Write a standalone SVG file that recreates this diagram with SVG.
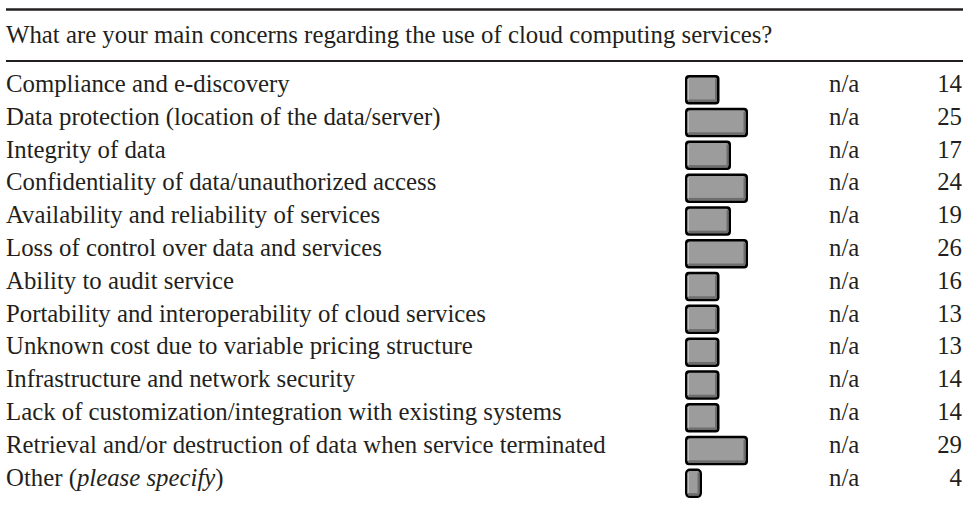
<svg xmlns="http://www.w3.org/2000/svg" width="967" height="509" viewBox="0 0 967 509">
<style>
text{font-family:"Liberation Serif","Times New Roman",serif;font-size:24.8px;fill:#231f20}
.num{text-anchor:end}
.rule{stroke:#231f20}
.bo{fill:#000}
.bf{fill:#9c9c9c}
.bh{fill:#bdbdbd}
.bs{fill:#6e6e6e}
</style>
<rect width="967" height="509" fill="#fff"/>
<line class="rule" x1="6" y1="9.5" x2="963" y2="9.5" stroke-width="2.6"/>
<text x="6" y="42.5">What are your main concerns regarding the use of cloud computing services?</text>
<line class="rule" x1="6" y1="61" x2="963" y2="61" stroke-width="2.2"/>
<defs>
<g id="b17"><rect class="bo" x="0" y="0" width="17" height="29.5" rx="5"/><rect class="bf" x="2.5" y="2.5" width="12" height="24.5" rx="2"/><rect class="bh" x="2.5" y="4" width="1.5" height="21"/><rect class="bs" x="12.5" y="4" width="2" height="21"/><rect class="bs" x="3" y="24.5" width="11" height="2.5"/></g>
<g id="b34"><rect class="bo" x="0" y="0" width="34.5" height="29.5" rx="4"/><rect class="bf" x="2.5" y="2.5" width="29.5" height="24.5" rx="2"/><rect class="bh" x="2.5" y="4" width="1.5" height="21"/><rect class="bs" x="30" y="4" width="2" height="21"/><rect class="bs" x="3.5" y="24.5" width="28" height="2.5"/></g>
<g id="b46"><rect class="bo" x="0" y="0" width="46" height="29.5" rx="4"/><rect class="bf" x="2.5" y="2.5" width="41" height="24.5" rx="2"/><rect class="bh" x="2.5" y="4" width="1.5" height="21"/><rect class="bs" x="41.5" y="4" width="2" height="21"/><rect class="bs" x="3.5" y="24.5" width="39.5" height="2.5"/></g>
<g id="b63"><rect class="bo" x="0" y="0" width="63" height="29.5" rx="4"/><rect class="bf" x="2.5" y="2.5" width="58" height="24.5" rx="2"/><rect class="bh" x="2.5" y="4" width="1.5" height="21"/><rect class="bs" x="58.5" y="4" width="2" height="21"/><rect class="bs" x="3.5" y="24.5" width="56.5" height="2.5"/></g>
</defs>
<g id="row1"><text x="6" y="92">Compliance and e-discovery</text><use href="#b34" x="685" y="75"/><text x="829" y="92">n/a</text><text class="num" x="962" y="92">14</text></g>
<g id="row2"><text x="6" y="124.8">Data protection (location of the data/server)</text><use href="#b63" x="685" y="107.8"/><text x="829" y="124.8">n/a</text><text class="num" x="962" y="124.8">25</text></g>
<g id="row3"><text x="6" y="157.6">Integrity of data</text><use href="#b46" x="685" y="140.6"/><text x="829" y="157.6">n/a</text><text class="num" x="962" y="157.6">17</text></g>
<g id="row4"><text x="6" y="190.4">Confidentiality of data/unauthorized access</text><use href="#b63" x="685" y="173.4"/><text x="829" y="190.4">n/a</text><text class="num" x="962" y="190.4">24</text></g>
<g id="row5"><text x="6" y="223.2">Availability and reliability of services</text><use href="#b46" x="685" y="206.2"/><text x="829" y="223.2">n/a</text><text class="num" x="962" y="223.2">19</text></g>
<g id="row6"><text x="6" y="256">Loss of control over data and services</text><use href="#b63" x="685" y="239"/><text x="829" y="256">n/a</text><text class="num" x="962" y="256">26</text></g>
<g id="row7"><text x="6" y="288.8">Ability to audit service</text><use href="#b34" x="685" y="271.8"/><text x="829" y="288.8">n/a</text><text class="num" x="962" y="288.8">16</text></g>
<g id="row8"><text x="6" y="321.6">Portability and interoperability of cloud services</text><use href="#b34" x="685" y="304.6"/><text x="829" y="321.6">n/a</text><text class="num" x="962" y="321.6">13</text></g>
<g id="row9"><text x="6" y="354.4">Unknown cost due to variable pricing structure</text><use href="#b34" x="685" y="337.4"/><text x="829" y="354.4">n/a</text><text class="num" x="962" y="354.4">13</text></g>
<g id="row10"><text x="6" y="387.2">Infrastructure and network security</text><use href="#b34" x="685" y="370.2"/><text x="829" y="387.2">n/a</text><text class="num" x="962" y="387.2">14</text></g>
<g id="row11"><text x="6" y="420">Lack of customization/integration with existing systems</text><use href="#b34" x="685" y="403"/><text x="829" y="420">n/a</text><text class="num" x="962" y="420">14</text></g>
<g id="row12"><text x="6" y="452.8">Retrieval and/or destruction of data when service terminated</text><use href="#b63" x="685" y="435.8"/><text x="829" y="452.8">n/a</text><text class="num" x="962" y="452.8">29</text></g>
<g id="row13"><text x="6" y="485.6">Other (<tspan font-style="italic">please specify</tspan>)</text><use href="#b17" x="685" y="468.6"/><text x="829" y="485.6">n/a</text><text class="num" x="962" y="485.6">4</text></g>
</svg>
